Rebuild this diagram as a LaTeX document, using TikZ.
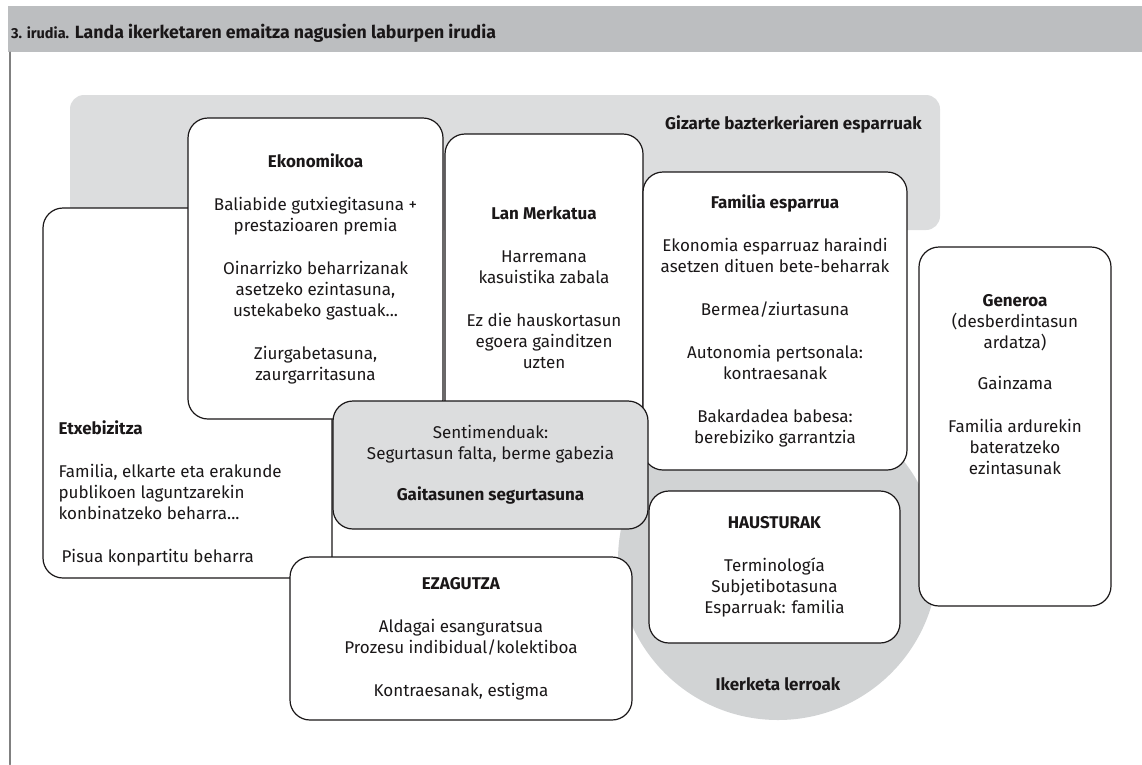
\documentclass[tikz,border=0pt]{standalone}
\usepackage{fontspec}
\setmainfont{Fira Sans}
\usetikzlibrary{positioning}
\definecolor{burugris}{HTML}{BCBEC0}
\definecolor{eremugris}{HTML}{DCDDDE}
\definecolor{biribilgris}{HTML}{D1D3D4}
\definecolor{testua}{HTML}{1A1718}
\begin{document}
\begin{tikzpicture}[x=1pt, y=-1pt, line join=round, line cap=round,
    font=\fontsize{17}{21}\selectfont, text=testua,
    txt/.style={align=center, inner sep=0pt},
    kutxa/.style={draw=testua, line width=1.2pt, fill=white, rounded corners=20pt, inner sep=0pt, align=center},
    eremu/.style={fill=eremugris, rounded corners=14pt, inner sep=0pt}]
	\useasboundingbox (0,0) rectangle (1142,764);
	% goiburua
	\node (buru) at (8,6) [anchor=north west, fill=burugris, minimum width=1134, minimum height=46, inner sep=0pt] {};
	\node (titulua) at (11,33) [anchor=west, inner sep=0pt, font=\fontsize{17.7}{22}\selectfont\bfseries] {{\fontsize{14.5}{17}\selectfont 3. irudia.} Landa ikerketaren emaitza nagusien laburpen irudia};
	\draw[gray, line width=2pt] ([xshift=1.5pt]buru.south west) -- ++(0,712);
	% atzealdeak
	\node (gizarte) at (505,162.5) [eremu, minimum width=870, minimum height=135] {};
	\node (gizartetxt) [below left=21pt and 18pt of gizarte.north east, txt] {\textbf{Gizarte bazterkeriaren esparruak}};
	\node (iker) at (778,560) [circle, fill=biribilgris, minimum size=320, inner sep=0pt] {};
	\node (ikertxt) [above=29pt of iker.south, txt] {\textbf{Ikerketa lerroak}};
	% kutxak
	\node (etx) at (187.5,393) [kutxa, minimum width=289, minimum height=370] {};
	\node (etxtxt) [above right=12pt and 16pt of etx.south west, txt, align=left] {\textbf{Etxebizitza}\\[22pt]
		Familia, elkarte eta erakunde\\ publikoen laguntzarekin\\ konbinatzeko beharra...\\[22pt]
		\hspace*{3pt}Pisua konpartitu beharra};
	\node (eko) at (315.5,268.5) [kutxa, minimum width=255, minimum height=301] {\textbf{Ekonomikoa}\\[22pt]
		Baliabide gutxiegitasuna +\\ prestazioaren premia\\[22pt]
		Oinarrizko beharrizanak\\ asetzeko ezintasuna,\\ ustekabeko gastuak...\\[22pt]
		Ziurgabetasuna,\\ zaurgarritasuna};
	\node (lan) at (544,287.5) [kutxa, minimum width=198, minimum height=307] {\textbf{Lan Merkatua}\\[22pt]
		Harremana\\ kasuistika zabala\\[22pt]
		Ez die hauskortasun\\ egoera gainditzen\\ uzten};
	\node (fam) at (775,321) [kutxa, minimum width=264, minimum height=298] {\textbf{Familia esparrua}\\[22pt]
		Ekonomia esparruaz haraindi\\ asetzen dituen bete-beharrak\\[22pt]
		Bermea/ziurtasuna\\[22pt]
		Autonomia pertsonala:\\ kontraesanak\\[22pt]
		Bakardadea babesa:\\ berebiziko garrantzia};
	\node (gen) at (1015,426.5) [kutxa, minimum width=192, minimum height=359] {};
	\node (gentxt) [below=48pt of gen.north, txt] {\textbf{Generoa}\\ (desberdintasun\\ ardatza)\\[20pt]
		Gainzama\\[22pt]
		Familia ardurekin\\ bateratzeko\\ ezintasunak};
	\node (sent) at (490.5,465) [kutxa, fill=eremugris, minimum width=315, minimum height=128] {Sentimenduak:\\ Segurtasun falta, berme gabezia\\[20pt]
		\textbf{Gaitasunen segurtasuna}};
	\node (eza) at (461,638.5) [kutxa, minimum width=342, minimum height=163] {\textbf{EZAGUTZA}\\[22pt]
		Aldagai esanguratsua\\ Prozesu indibidual/kolektiboa\\[22pt]
		Kontraesanak, estigma};
	\node (hau) at (774.5,567) [kutxa, minimum width=251, minimum height=152] {\textbf{HAUSTURAK}\\[22pt]
		Terminología\\ Subjetibotasuna\\ Esparruak: familia};
\end{tikzpicture}
\end{document}
